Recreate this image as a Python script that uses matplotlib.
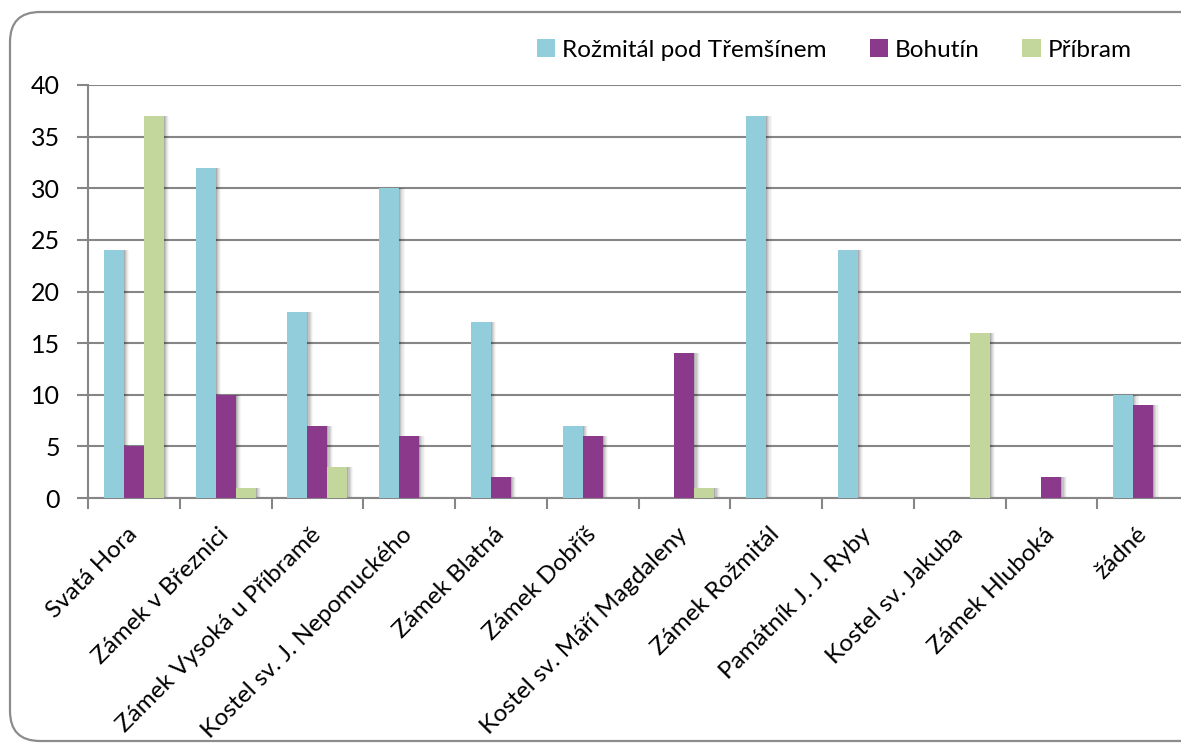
import numpy as np
import matplotlib.pyplot as plt
from matplotlib.patches import FancyBboxPatch

# data
categories = ['Svatá Hora', 'Zámek v Březnici', 'Zámek Vysoká u Příbramě',
              'Kostel sv. J. Nepomuckého', 'Zámek Blatná', 'Zámek Dobříš',
              'Kostel sv. Máří Magdaleny', 'Zámek Rožmitál', 'Památník J. J. Ryby',
              'Kostel sv. Jakuba', 'Zámek Hluboká', 'žádné']
rozmital = [24, 32, 18, 30, 17, 7, 0, 37, 24, 0, 0, 10]
bohutin = [5, 10, 7, 6, 2, 6, 14, 0, 0, 0, 2, 9]
pribram = [37, 1, 3, 0, 0, 0, 1, 0, 0, 16, 0, 0]
series_names = ['Rožmitál pod Třemšínem', 'Bohutín', 'Příbram']
colors = ['#92CDDC', '#8B3A8B', '#C3D69B']

plt.rcParams['font.family'] = ['Lato', 'DejaVu Sans']

fig = plt.figure(figsize=(11.81, 7.43), dpi=100)

# rounded outer frame in pixel units (runs off the right edge of the picture)
frame = FancyBboxPatch((10, 2), 1300, 729,
                       boxstyle='round,pad=0,rounding_size=30',
                       transform=None, fill=False,
                       edgecolor='#8c8c8c', linewidth=1.6, zorder=0)
fig.patches.append(frame)

ax = fig.add_axes([88 / 1181, 1 - 498 / 743, 1101 / 1181, 413 / 743])

x = np.arange(len(categories))
w = 0.218
all_series = [rozmital, bohutin, pribram]

for i, (vals, name, c) in enumerate(zip(all_series, series_names, colors)):
    pos = x + (i - 1) * w
    # soft shadow on the right side of each bar
    for k, a in enumerate([0.12, 0.09, 0.07, 0.05, 0.03]):
        ax.bar(pos + 0.012 * (k + 1), vals, width=w, color='#000000',
               alpha=a, linewidth=0, zorder=2)
    ax.bar(pos, vals, width=w, color=c, linewidth=0, label=name, zorder=3)

ax.set_xlim(-0.5, len(categories) - 0.5)
ax.set_ylim(0, 40)
ax.set_yticks(range(0, 41, 5))
ax.yaxis.grid(True, color='#868686', linewidth=1.5, zorder=0)
ax.set_axisbelow(True)

ax.set_xticks(np.arange(len(categories) + 1) - 0.5, minor=False)
ax.set_xticklabels([])
ax.set_xticks(x, minor=True)
ax.set_xticklabels(categories, minor=True, rotation=45, ha='right', va='center',
                   rotation_mode='anchor', fontsize=17.5)
ax.tick_params(axis='x', which='minor', length=0, pad=24)
ax.tick_params(axis='x', which='major', length=8, width=1.5, color='#868686')
ax.tick_params(axis='y', length=8, width=1.5, color='#868686', labelsize=18, pad=12)

for s in ['top', 'right']:
    ax.spines[s].set_visible(False)
for s in ['left', 'bottom']:
    ax.spines[s].set_color('#868686')
    ax.spines[s].set_linewidth(1.5)

handles, labels = ax.get_legend_handles_labels()
fig.legend(handles, labels, loc='center right', bbox_to_anchor=(0.977, 1 - 50 / 743),
           ncol=3, frameon=False, fontsize=17.5, handlelength=0.75, handleheight=0.75,
           handletextpad=0.3, columnspacing=1.75)

fig.savefig('out.png', dpi=100)
